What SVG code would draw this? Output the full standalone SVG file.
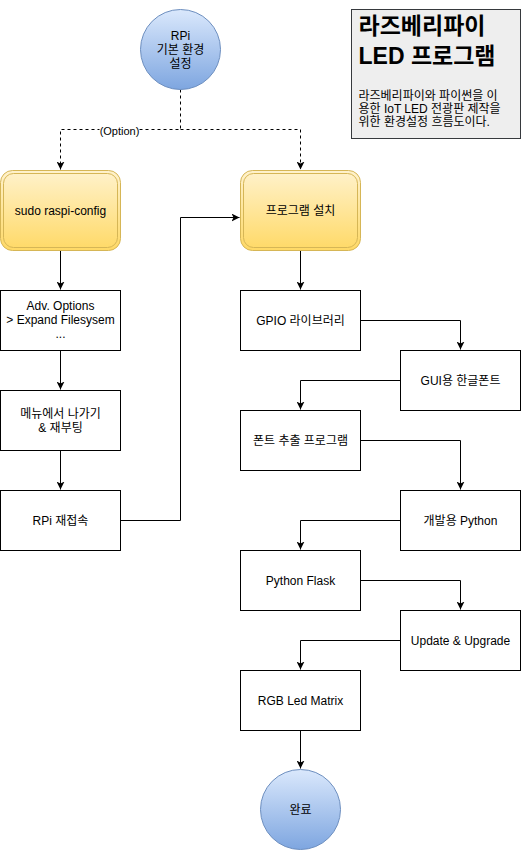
<svg xmlns="http://www.w3.org/2000/svg" width="521" height="850" viewBox="0 0 521 850">
<style>
  .t { font-family: "Liberation Sans", "Noto Sans CJK KR", Arial, sans-serif; font-size: 12px; fill: #000; text-anchor: middle; }
  .box { fill: #ffffff; stroke: #000000; stroke-width: 1; }
  .circ { fill: url(#blueGrad); stroke: #6c8ebf; stroke-width: 1; }
  .ybox { fill: url(#yellowGrad); stroke: #d6b656; stroke-width: 1; }
  .yin { fill: none; stroke: #d6b656; stroke-width: 1; }
  .edge { fill: none; stroke: #000000; stroke-width: 1; }
  .dash { stroke-dasharray: 3 3; }
</style>
<defs>
  <linearGradient id="blueGrad" x1="0" y1="0" x2="0" y2="1">
    <stop offset="0" stop-color="#dae8fc"/>
    <stop offset="1" stop-color="#7ea6e0"/>
  </linearGradient>
  <linearGradient id="yellowGrad" x1="0" y1="0" x2="0" y2="1">
    <stop offset="0" stop-color="#fff2cc"/>
    <stop offset="1" stop-color="#ffd966"/>
  </linearGradient>
  <marker id="arr" viewBox="0 0 8 8" refX="8" refY="4" markerWidth="8" markerHeight="8" markerUnits="userSpaceOnUse" orient="auto">
    <path d="M0,0 L8,4 L0,8 L2,4 z" fill="#000"/>
  </marker>
</defs>
<rect width="521" height="850" fill="#ffffff"/>
<g transform="translate(0.5,0.5)">
  <g id="connectors">
    <path class="edge dash" d="M180,89 L180,129 L60,129 L60,169" marker-end="url(#arr)"/>
    <path class="edge dash" d="M180,129 L300,129 L300,169" marker-end="url(#arr)"/>
    <rect x="99" y="123" width="39" height="13" fill="#ffffff"/>
    <text class="t" x="119" y="134" style="font-size:11px">(Option)</text>
    <path class="edge" d="M60,250 L60,289" marker-end="url(#arr)"/>
    <path class="edge" d="M60,350 L60,389" marker-end="url(#arr)"/>
    <path class="edge" d="M60,450 L60,489" marker-end="url(#arr)"/>
    <path class="edge" d="M120,520 L180,520 L180,217 L239,217" marker-end="url(#arr)"/>
    <path class="edge" d="M300,250 L300,289" marker-end="url(#arr)"/>
    <path class="edge" d="M360,320 L460,320 L460,349" marker-end="url(#arr)"/>
    <path class="edge" d="M400,380 L300,380 L300,409" marker-end="url(#arr)"/>
    <path class="edge" d="M360,440 L460,440 L460,489" marker-end="url(#arr)"/>
    <path class="edge" d="M400,520 L300,520 L300,549" marker-end="url(#arr)"/>
    <path class="edge" d="M360,580 L460,580 L460,609" marker-end="url(#arr)"/>
    <path class="edge" d="M400,640 L300,640 L300,669" marker-end="url(#arr)"/>
    <path class="edge" d="M300,730 L300,768" marker-end="url(#arr)"/>
  </g>

  <g id="title">
    <rect x="351" y="9" width="169" height="129" fill="#eeeeee" stroke="#36393d"/>
    <text x="358" y="33" style="font-family:'Liberation Sans','Noto Sans CJK KR',sans-serif;font-size:23px;font-weight:bold;fill:#000">라즈베리파이</text>
    <text x="358" y="63" style="font-family:'Liberation Sans','Noto Sans CJK KR',sans-serif;font-size:23px;font-weight:bold;fill:#000">LED 프로그램</text>
    <text x="358" y="99" style="font-family:'Liberation Sans','Noto Sans CJK KR',sans-serif;font-size:12px;fill:#000">라즈베리파이와 파이썬을 이</text>
    <text x="358" y="112" style="font-family:'Liberation Sans','Noto Sans CJK KR',sans-serif;font-size:12px;fill:#000">용한 IoT LED 전광판 제작을</text>
    <text x="358" y="125" style="font-family:'Liberation Sans','Noto Sans CJK KR',sans-serif;font-size:12px;fill:#000">위한 환경설정 흐름도이다.</text>
  </g>

  <g id="start">
    <circle class="circ" cx="180" cy="49" r="40"/>
    <text class="t" x="180" y="39">RPi</text>
    <text class="t" x="180" y="53">기본 환경</text>
    <text class="t" x="180" y="67">설정</text>
  </g>

  <g id="raspi-config">
    <rect class="ybox" x="0" y="170" width="120" height="80" rx="12" ry="12"/>
    <rect class="yin" x="3" y="173" width="114" height="74" rx="10" ry="10"/>
    <text class="t" x="60" y="214">sudo raspi-config</text>
  </g>

  <g id="program-install">
    <rect class="ybox" x="240" y="170" width="120" height="80" rx="12" ry="12"/>
    <rect class="yin" x="243" y="173" width="114" height="74" rx="10" ry="10"/>
    <text class="t" x="300" y="214">프로그램 설치</text>
  </g>

  <g id="adv-options">
    <rect class="box" x="0" y="290" width="120" height="60"/>
    <text class="t" x="60" y="309">Adv. Options</text>
    <text class="t" x="60" y="323">&gt; Expand Filesysem</text>
    <text class="t" x="60" y="337">...</text>
  </g>

  <g id="exit-reboot">
    <rect class="box" x="0" y="390" width="120" height="60"/>
    <text class="t" x="60" y="417">메뉴에서 나가기</text>
    <text class="t" x="60" y="431">&amp; 재부팅</text>
  </g>

  <g id="reconnect">
    <rect class="box" x="0" y="490" width="120" height="60"/>
    <text class="t" x="60" y="524">RPi 재접속</text>
  </g>

  <g id="gpio">
    <rect class="box" x="240" y="290" width="120" height="60"/>
    <text class="t" x="300" y="324">GPIO 라이브러리</text>
  </g>

  <g id="gui-font">
    <rect class="box" x="400" y="350" width="120" height="60"/>
    <text class="t" x="460" y="384">GUI용 한글폰트</text>
  </g>

  <g id="font-extract">
    <rect class="box" x="240" y="410" width="120" height="60"/>
    <text class="t" x="300" y="444">폰트 추출 프로그램</text>
  </g>

  <g id="dev-python">
    <rect class="box" x="400" y="490" width="120" height="60"/>
    <text class="t" x="460" y="524">개발용 Python</text>
  </g>

  <g id="python-flask">
    <rect class="box" x="240" y="550" width="120" height="60"/>
    <text class="t" x="300" y="584">Python Flask</text>
  </g>

  <g id="update-upgrade">
    <rect class="box" x="400" y="610" width="120" height="60"/>
    <text class="t" x="460" y="644">Update &amp; Upgrade</text>
  </g>

  <g id="rgb-matrix">
    <rect class="box" x="240" y="670" width="120" height="60"/>
    <text class="t" x="300" y="704">RGB Led Matrix</text>
  </g>

  <g id="done">
    <circle class="circ" cx="300" cy="809" r="40"/>
    <text class="t" x="300" y="813">완료</text>
  </g>
</g>
</svg>
